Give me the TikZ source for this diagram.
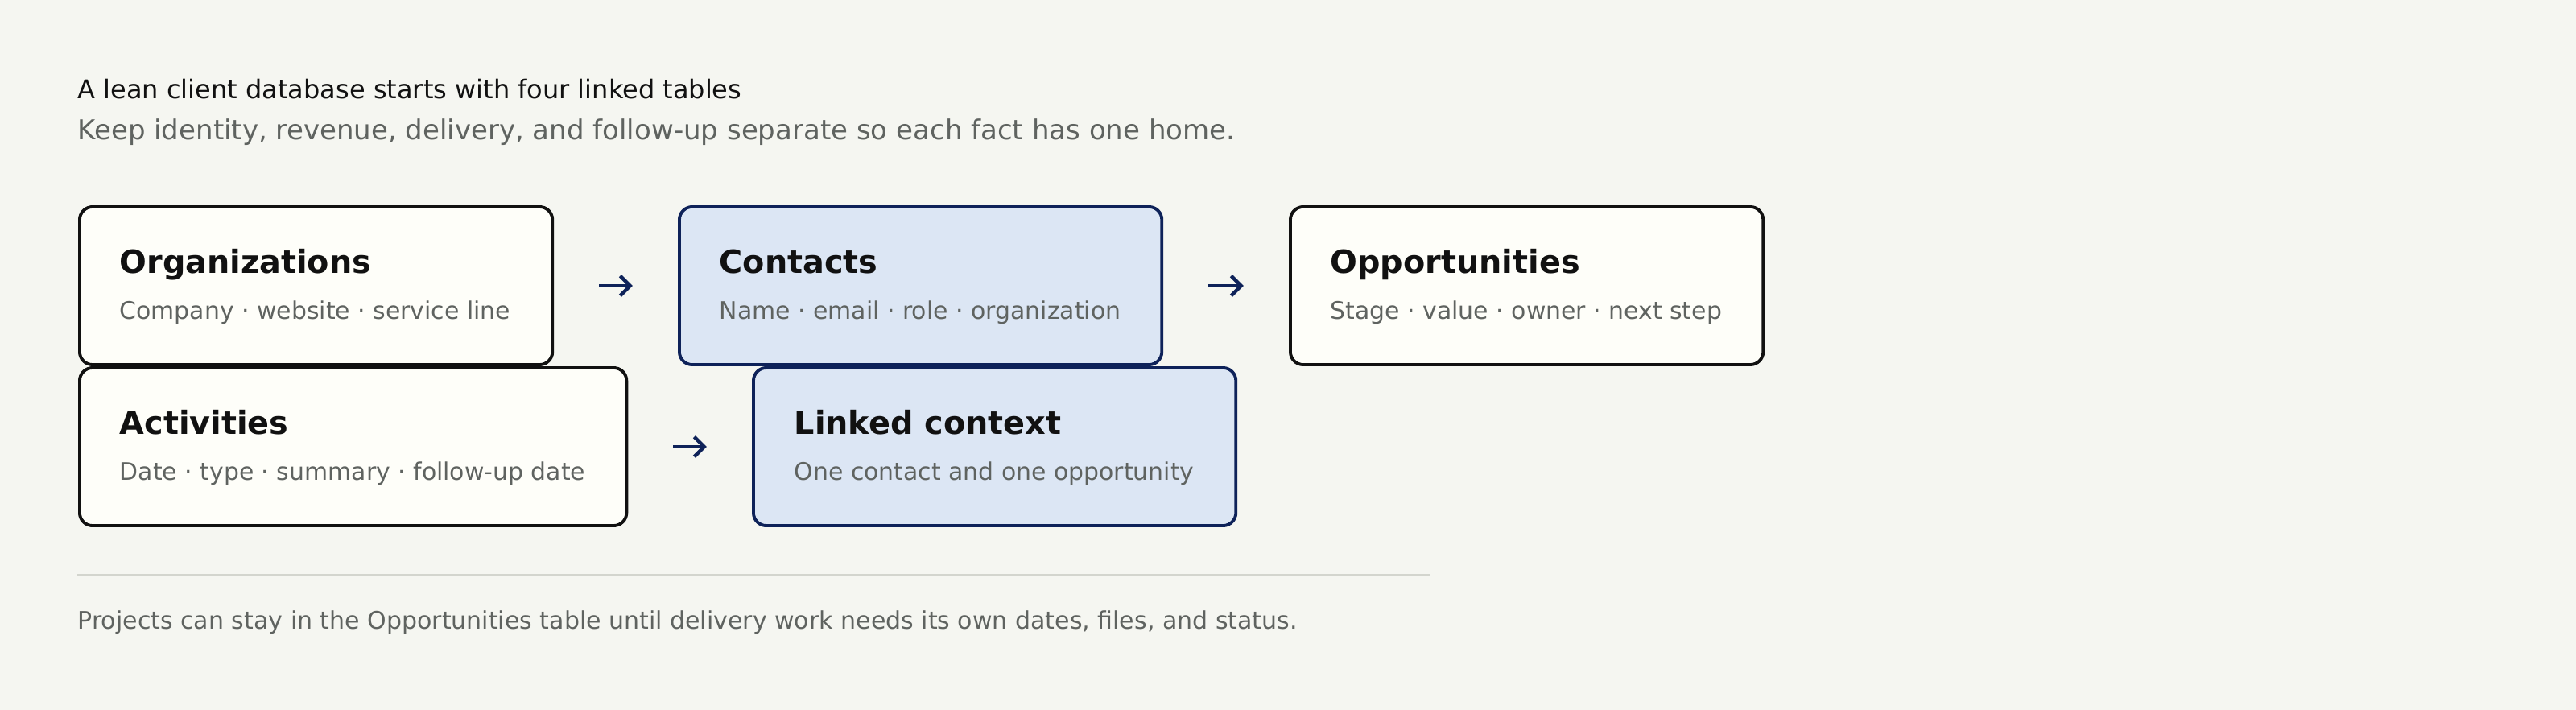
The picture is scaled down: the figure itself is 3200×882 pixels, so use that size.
\documentclass[tikz,border=0pt]{standalone}
\usepackage{fontspec}
\setmainfont{DejaVu Sans}
\usepackage{xcolor}
\usetikzlibrary{positioning,arrows.meta}

\definecolor{paper}{HTML}{F5F6F1}
\definecolor{cream}{HTML}{FEFEF9}
\definecolor{paleblue}{HTML}{DCE6F4}
\definecolor{navy}{HTML}{0E2259}
\definecolor{ink}{HTML}{111111}
\definecolor{slate}{HTML}{5F6360}
\definecolor{rule}{HTML}{D3D5CE}

\begin{document}
\begin{tikzpicture}[x=0.01cm,y=-0.01cm,
    table/.style={draw=ink,line width=1.1pt,fill=cream,rounded corners=0.16cm,
      minimum height=1.96cm,inner sep=0pt,anchor=north west},
    keytable/.style={table,draw=navy,fill=paleblue},
    tabname/.style={anchor=base west,inner sep=0pt,text=ink,
      font=\fontsize{11.3}{13}\selectfont\bfseries},
    tabcols/.style={anchor=base west,inner sep=0pt,text=slate,
      font=\fontsize{8.5}{10}\selectfont},
    link/.style={-{Straight Barb[length=3.5pt,width=7pt]},draw=navy,line width=1.3pt,
      shorten <=0.56cm,shorten >=0.56cm}]
    \fill[paper] (0,0) rectangle (3200,882);
    \useasboundingbox (0,0) rectangle (3200,882);

    % heading
    \node[anchor=base west,inner sep=0pt,text=ink,font=\fontsize{9.1}{11}\selectfont] (title) at (96,123)
      {A lean client database starts with four linked tables};
    \node[anchor=base west,inner sep=0pt,text=slate,font=\fontsize{9.67}{12}\selectfont] (subtitle) at (96,173)
      {Keep identity, revenue, delivery, and follow-up separate so each fact has one home.};

    % tables
    \node[table,minimum width=5.87cm] (org) at (97,255) {};
    \node[keytable,minimum width=5.99cm] (con) at (842,255) {};
    \node[table,minimum width=5.87cm] (opp) at (1601,255) {};
    \node[table,minimum width=6.79cm] (act) at (97,455) {};
    \node[keytable,minimum width=5.99cm] (ctx) at (934,455) {};

    \node[tabname] (orgName) at ([shift={(51,84)}]org.north west) {Organizations};
    \node[tabcols] (orgCols) at ([shift={(51,141)}]org.north west) {Company · website · service line};
    \node[tabname] (conName) at ([shift={(51,84)}]con.north west) {Contacts};
    \node[tabcols] (conCols) at ([shift={(51,141)}]con.north west) {Name · email · role · organization};
    \node[tabname] (oppName) at ([shift={(51,84)}]opp.north west) {Opportunities};
    \node[tabcols] (oppCols) at ([shift={(51,141)}]opp.north west) {Stage · value · owner · next step};
    \node[tabname] (actName) at ([shift={(51,84)}]act.north west) {Activities};
    \node[tabcols] (actCols) at ([shift={(51,141)}]act.north west) {Date · type · summary · follow-up date};
    \node[tabname] (ctxName) at ([shift={(52,84)}]ctx.north west) {Linked context};
    \node[tabcols] (ctxCols) at ([shift={(52,141)}]ctx.north west) {One contact and one opportunity};

    % links
    \draw[link] (org) -- (con);
    \draw[link] (con) -- (opp);
    \draw[link] (act) -- (ctx);

    % footer
    \coordinate (ruleL) at (96,714);
    \coordinate (ruleR) at (1776,714);
    \draw[rule,line width=0.7pt] (ruleL) -- (ruleR);
    \node[anchor=base west,inner sep=0pt,text=slate,font=\fontsize{8.53}{10}\selectfont] (note) at (96,781)
      {Projects can stay in the Opportunities table until delivery work needs its own dates, files, and status.};
\end{tikzpicture}
\end{document}
